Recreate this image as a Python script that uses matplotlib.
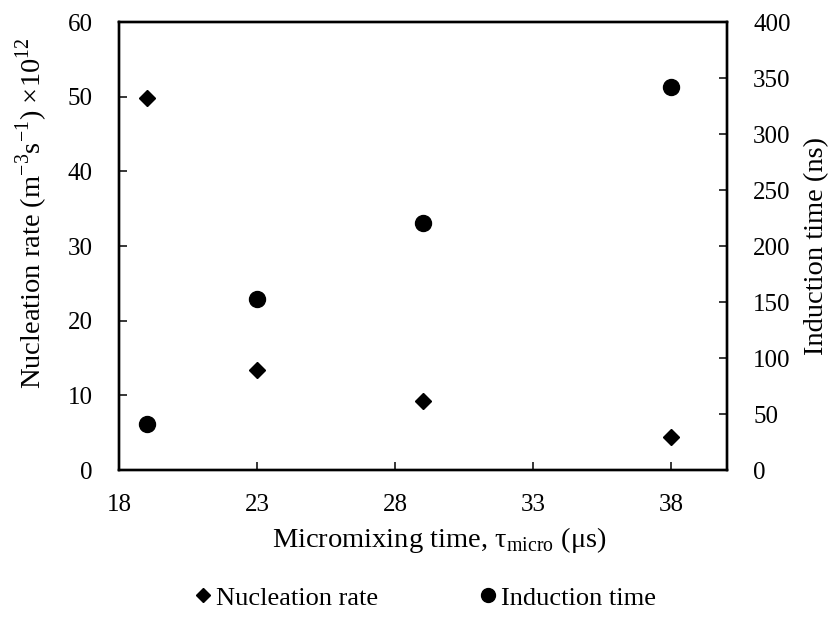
import matplotlib
matplotlib.use('Agg')
import matplotlib.pyplot as plt
from matplotlib.lines import Line2D

plt.rcParams['font.family'] = ['Liberation Serif', 'DejaVu Serif']
plt.rcParams['mathtext.fontset'] = 'custom'
plt.rcParams['mathtext.rm'] = 'Liberation Serif'

# micromixing time (us)
tau = [19, 23, 29, 38]
# nucleation rate (x1e12 m^-3 s^-1)
rate = [49.8, 13.4, 9.2, 4.4]
# induction time (ns)
induction = [41, 153, 221, 342]

xticks = [18, 23, 28, 33, 38]
left_ticks = [0, 10, 20, 30, 40, 50, 60]
right_ticks = [0, 50, 100, 150, 200, 250, 300, 350, 400]

fig = plt.figure(figsize=(8.29, 6.17), dpi=100)
ax = fig.add_axes([0.1435, 0.2382, 0.7331, 0.7261])
ax2 = ax.twinx()

ax.plot(tau, rate, linestyle='none', marker='D', markersize=8, color='black')
ax2.plot(tau, induction, linestyle='none', marker='o', markersize=11.5, color='black')

ax.set_xlim(18, 40)
ax.set_ylim(0, 60)
ax2.set_ylim(0, 400)
ax.set_xticks(xticks)
ax.set_yticks(left_ticks)
ax2.set_yticks(right_ticks)

fs = 18
ax.tick_params(axis='both', direction='in', length=5.5, width=1.1, labelsize=fs)
ax.tick_params(axis='x', pad=17)
ax.tick_params(axis='y', pad=19)
ax2.tick_params(axis='y', direction='in', length=5.5, width=1.1, labelsize=fs, pad=19)
for a in (ax, ax2):
    for s in a.spines.values():
        s.set_linewidth(1.7)

lfs = 20.5
fig.text(0.5296, 0.125, 'Micromixing time, τ$_{\\mathregular{micro}}$ (μs)',
         fontsize=lfs, ha='center', va='center')
fig.text(0.0386, 0.655,
         'Nucleation rate (m$^{\\mathregular{−3}}$s$^{\\mathregular{−1}}$) ×10$^{\\mathregular{12}}$',
         fontsize=lfs, ha='center', va='center', rotation=90)
fig.text(0.9855, 0.601, 'Induction time (ns)', fontsize=lfs,
         ha='center', va='center', rotation=90)

handles = [Line2D([], [], linestyle='none', marker='D', markersize=7, color='black'),
           Line2D([], [], linestyle='none', marker='o', markersize=10, color='black')]
fig.legend(handles, ['Nucleation rate', 'Induction time'], loc='center',
           bbox_to_anchor=(0.51, 0.031), ncol=2, frameon=False, fontsize=19,
           handletextpad=0.0, columnspacing=3.65, handlelength=1.0)

fig.savefig('out.png', dpi=100)
